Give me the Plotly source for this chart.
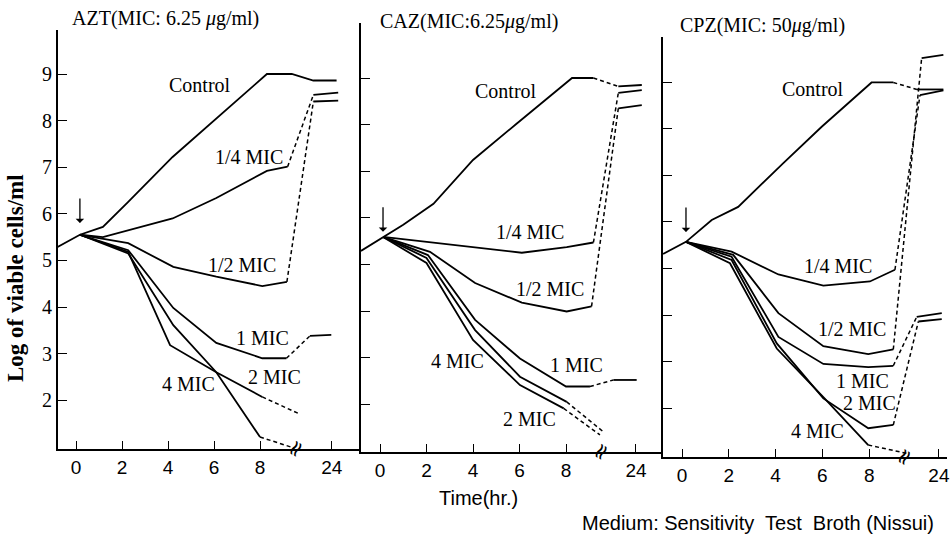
import plotly.graph_objects as go

W, H = 950, 547

# ---------------- data ----------------
# x: position on the broken time axis (hours 0-9, then the "24 h" point drawn right of the break)
# y: log of viable cells/ml
TICK_HOURS = [0, 2, 4, 6, 8]
TICK_LABELS = ["0", "2", "4", "6", "8", "24"]
Y_TICKS = [2, 3, 4, 5, 6, 7, 8, 9]
SERIES_NAMES = ["Control", "1/4 MIC", "1/2 MIC", "1 MIC", "2 MIC", "4 MIC"]

# AZT
AZT_CONTROL_T = [-0.8, 0.17, 1.17, 2.26, 4.2, 6.4, 8.3, 9.38, 10.32, 11.33]
AZT_CONTROL_Y = [5.29, 5.55, 5.72, 6.25, 7.22, 8.18, 9.0, 9.0, 8.86, 8.86]
AZT_Q_T = [0.17, 1.17, 4.2, 6.1, 8.3, 9.2, 10.32, 11.4]
AZT_Q_Y = [5.55, 5.5, 5.9, 6.34, 6.92, 7.01, 8.55, 8.6]
AZT_H_T = [0.17, 2.27, 4.23, 6.1, 8.1, 9.17, 10.32, 11.4]
AZT_H_Y = [5.55, 5.37, 4.86, 4.65, 4.45, 4.54, 8.41, 8.43]
AZT_1_T = [0.17, 2.27, 4.23, 6.1, 8.1, 9.15, 10.17, 11.1]
AZT_1_Y = [5.55, 5.22, 3.98, 3.23, 2.9, 2.9, 3.38, 3.4]
AZT_2_T = [0.17, 2.27, 4.09, 6.1, 8.1, 9.74]
AZT_2_Y = [5.55, 5.18, 3.18, 2.6, 2.07, 1.7]
AZT_4_T = [0.17, 2.27, 4.23, 6.1, 8.0, 9.5]
AZT_4_Y = [5.55, 5.15, 3.61, 2.6, 1.21, 0.97]

# CAZ
CAZ_CONTROL_T = [-0.82, 0.13, 1.0, 2.3, 4.0, 5.9, 8.26, 9.18, 10.25, 11.26]
CAZ_CONTROL_Y = [5.29, 5.59, 5.85, 6.3, 7.24, 8.03, 9.0, 9.0, 8.82, 8.85]
CAZ_Q_T = [0.13, 4.3, 6.1, 8.03, 9.18, 10.25, 11.26]
CAZ_Q_Y = [5.59, 5.35, 5.25, 5.37, 5.47, 8.68, 8.74]
CAZ_H_T = [0.13, 2.15, 4.09, 6.1, 8.03, 9.1, 10.25, 11.26]
CAZ_H_Y = [5.59, 5.27, 4.6, 4.18, 3.99, 4.1, 8.35, 8.42]
CAZ_1_T = [0.13, 2.06, 4.09, 6.02, 8.0, 9.03, 10.04, 11.04]
CAZ_1_Y = [5.59, 5.2, 3.81, 2.98, 2.38, 2.38, 2.52, 2.52]
CAZ_2_T = [0.13, 2.0, 4.09, 6.02, 8.03, 9.6]
CAZ_2_Y = [5.59, 5.14, 3.59, 2.59, 2.05, 1.41]
CAZ_4_T = [0.13, 2.0, 4.0, 6.02, 7.9, 9.46]
CAZ_4_Y = [5.59, 5.03, 3.38, 2.41, 1.91, 1.34]

# CPZ
CPZ_CONTROL_T = [-0.81, 0.17, 1.27, 2.4, 4.33, 5.97, 8.1, 9.03, 10.04, 11.17]
CPZ_CONTROL_Y = [5.31, 5.57, 6.04, 6.32, 7.26, 8.04, 8.99, 8.99, 8.84, 8.84]
CPZ_Q_T = [0.17, 2.12, 4.12, 6.04, 8.03, 9.1, 10.17, 11.17]
CPZ_Q_Y = [5.57, 5.36, 4.87, 4.63, 4.72, 4.97, 8.72, 8.82]
CPZ_H_T = [0.17, 2.19, 4.12, 6.04, 7.96, 9.03, 10.24, 11.17]
CPZ_H_Y = [5.57, 5.29, 4.04, 3.33, 3.16, 3.26, 9.51, 9.58]
CPZ_1_T = [0.17, 2.12, 4.12, 6.04, 7.96, 9.03, 10.03, 11.1]
CPZ_1_Y = [5.57, 5.25, 3.53, 2.95, 2.88, 2.91, 3.96, 4.04]
CPZ_2_T = [0.17, 2.12, 4.05, 6.04, 7.96, 9.03, 10.1, 11.1]
CPZ_2_Y = [5.57, 5.18, 3.39, 2.21, 1.57, 1.64, 3.86, 3.91]
CPZ_4_T = [0.17, 2.05, 4.05, 6.04, 7.96, 9.6]
CPZ_4_Y = [5.57, 5.11, 3.28, 2.24, 1.21, 1.03]

# drug addition (arrow) time and arrow tip level
ADD_T = [0.17, 0.13, 0.17]
ADD_Y = [5.80, 5.70, 5.78]

TITLES = ["AZT(MIC: 6.25 <i>μ</i>g/ml)", "CAZ(MIC:6.25<i>μ</i>g/ml)", "CPZ(MIC: 50<i>μ</i>g/ml)"]

# ---------------- styles / layout ----------------
# index of the segment drawn dashed (None = all solid)
DASH_SEG = {
    "AZT": [None, 5, 5, 5, 4, 4],
    "CAZ": [7, 4, 5, 5, 4, 4],
    "CPZ": [7, 5, 5, 5, 5, 4],
}
DATA = {
    "AZT": [(AZT_CONTROL_T, AZT_CONTROL_Y), (AZT_Q_T, AZT_Q_Y), (AZT_H_T, AZT_H_Y),
            (AZT_1_T, AZT_1_Y), (AZT_2_T, AZT_2_Y), (AZT_4_T, AZT_4_Y)],
    "CAZ": [(CAZ_CONTROL_T, CAZ_CONTROL_Y), (CAZ_Q_T, CAZ_Q_Y), (CAZ_H_T, CAZ_H_Y),
            (CAZ_1_T, CAZ_1_Y), (CAZ_2_T, CAZ_2_Y), (CAZ_4_T, CAZ_4_Y)],
    "CPZ": [(CPZ_CONTROL_T, CPZ_CONTROL_Y), (CPZ_Q_T, CPZ_Q_Y), (CPZ_H_T, CPZ_H_Y),
            (CPZ_1_T, CPZ_1_Y), (CPZ_2_T, CPZ_2_Y), (CPZ_4_T, CPZ_4_Y)],
}
# label positions (data units of each panel)
LABEL_POS = {
    "AZT": [(5.4, 8.76), (7.5, 7.22), (7.2, 4.9), (8.13, 3.33), (8.65, 2.5), (4.87, 2.35)],
    "CAZ": [(5.42, 8.72), (6.45, 5.7), (7.3, 4.47), (8.43, 2.84), (6.45, 1.68), (3.35, 2.93)],
    "CPZ": [(5.6, 8.85), (6.67, 5.05), (7.26, 3.7), (7.73, 2.58), (8.0, 2.11), (5.8, 1.51)],
}
# per panel: left px, right px, px at t=0, px/hour, px of log 9, bottom px, top px, "24" position,
#            title left px, title centre px
PANELS = [
    ("AZT", 58, 361, 76, 23.0, 74, 449, 30, 11.12, 70, 18),
    ("CAZ", 361, 663, 380, 23.25, 78, 452, 23, 11.01, 378, 22),
    ("CPZ", 663, 947, 682, 23.4, 82, 457, 37, 10.98, 678, 25),
]
U = 46.6  # px per log unit

SERIF = "Liberation Serif, Times New Roman, serif"
SANS = "Liberation Sans, Arial, sans-serif"
LW = 1.8
DASH = "4px,3px"

fig = go.Figure()
annotations = []
layout = {}

for i, (key, lpx, rpx, x0px, sx, y9, bpx, tpx, pos24, ttx, tty) in enumerate(PANELS):
    sfx = "" if i == 0 else str(i + 1)
    xref, yref = "x" + sfx, "y" + sfx
    xr = [(lpx - x0px) / sx, (rpx - x0px) / sx]
    yr = [9 - (bpx - y9) / U, 9 + (y9 - tpx) / U]
    layout["xaxis" + sfx] = dict(
        domain=[lpx / W, rpx / W], range=xr, anchor=yref,
        showline=True, linecolor="black", linewidth=1.8,
        ticks="inside", ticklen=8, tickwidth=1.4, tickcolor="black",
        tickvals=TICK_HOURS + [pos24], ticktext=TICK_LABELS,
        tickfont=dict(family=SANS, size=19, color="black"),
        showgrid=False, zeroline=False, automargin=False, fixedrange=True,
    )
    layout["yaxis" + sfx] = dict(
        domain=[1 - bpx / H, 1 - tpx / H], range=yr, anchor=xref,
        showline=True, linecolor="black", linewidth=1.8,
        ticks="inside", ticklen=9, tickwidth=1.4, tickcolor="black",
        tickvals=Y_TICKS, showticklabels=(i == 0),
        tickfont=dict(family=SERIF, size=20, color="black"),
        showgrid=False, zeroline=False, automargin=False, fixedrange=True,
    )

    for (tt, yy), dseg, name, (lx, ly) in zip(DATA[key], DASH_SEG[key], SERIES_NAMES, LABEL_POS[key]):
        n = len(tt)
        runs = []
        if dseg is None:
            runs.append((0, n - 1, "solid"))
        else:
            if dseg > 0:
                runs.append((0, dseg, "solid"))
            runs.append((dseg, dseg + 1, DASH))
            if dseg + 1 < n - 1:
                runs.append((dseg + 1, n - 1, "solid"))
        for a, b, st in runs:
            fig.add_trace(go.Scatter(
                x=tt[a:b + 1], y=yy[a:b + 1], mode="lines", xaxis=xref, yaxis=yref,
                line=dict(color="black", width=LW if st == "solid" else 1.5, dash=st),
                showlegend=False, hoverinfo="skip",
            ))
        annotations.append(dict(
            x=lx, y=ly, xref=xref, yref=yref, text=name, showarrow=False,
            font=dict(family=SERIF, size=20, color="black"),
        ))

    # arrow of drug addition
    annotations.append(dict(
        x=ADD_T[i], y=ADD_Y[i], xref=xref, yref=yref, ax=0, ay=-26, text="",
        showarrow=True, arrowhead=1, arrowsize=1.1, arrowwidth=1.3, arrowcolor="black",
    ))
    # axis break mark
    annotations.append(dict(
        x=9.5, y=0, xref=xref, yref=yref + " domain", text="≈", textangle=-60,
        xanchor="center", yanchor="middle",
        showarrow=False, font=dict(family="DejaVu Sans", size=22, color="black"),
    ))
    # panel title
    annotations.append(dict(
        x=ttx / W, y=1 - tty / H, xref="paper", yref="paper",
        text=TITLES[i], showarrow=False, xanchor="left", yanchor="middle",
        font=dict(family=SERIF, size=20, color="black"),
    ))

annotations.append(dict(
    x=15 / W, y=1 - 278 / H, xref="paper", yref="paper", text="<b>Log of viable cells/ml</b>",
    textangle=-90, showarrow=False, xanchor="center", yanchor="middle",
    font=dict(family=SERIF, size=23, color="black"),
))
annotations.append(dict(
    x=478 / W, y=1 - 498 / H, xref="paper", yref="paper", text="Time(hr.)",
    xanchor="center", yanchor="middle",
    showarrow=False, font=dict(family=SANS, size=20, color="black"),
))
annotations.append(dict(
    x=936 / W, y=1 - 523 / H, xref="paper", yref="paper", xanchor="right", yanchor="middle",
    text="Medium: Sensitivity  Test  Broth (Nissui)",
    showarrow=False, font=dict(family=SANS, size=20, color="black"),
))

fig.update_layout(
    width=W, height=H, margin=dict(l=0, r=0, t=0, b=0),
    paper_bgcolor="white", plot_bgcolor="rgba(0,0,0,0)",
    annotations=annotations, **layout,
)
fig.write_html("out.html")
